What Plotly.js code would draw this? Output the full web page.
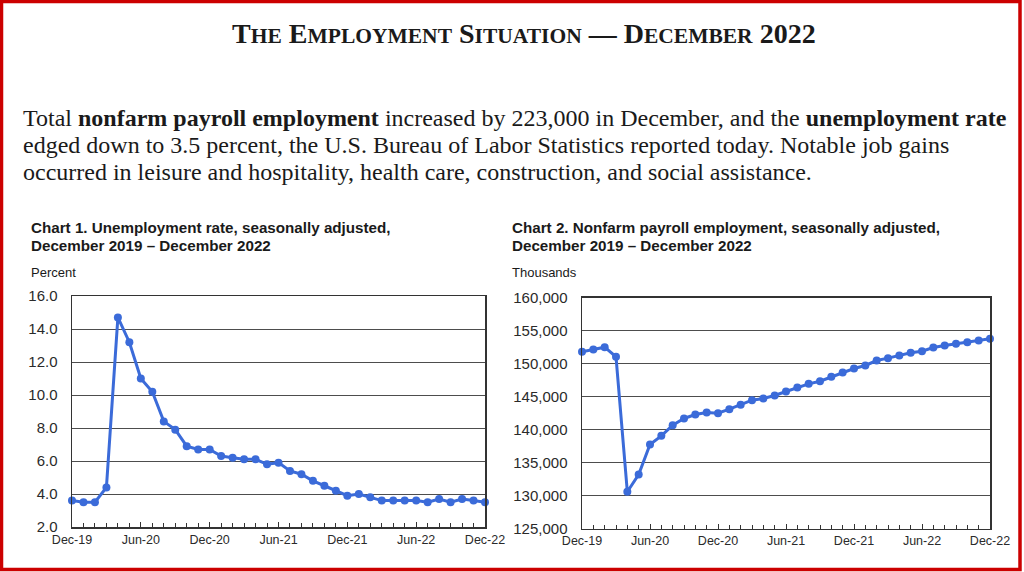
<!DOCTYPE html>
<html>
<head>
<meta charset="utf-8">
<script src="https://cdn.plot.ly/plotly-3.0.1.min.js"></script>
<style>
  html, body { margin: 0; padding: 0; background: #ffffff; }
  #chart { width: 1024px; height: 572px; }
</style>
</head>
<body>
<div id="chart"></div>
<script>
// ---- Data ----
const months = [
  "Dec-19","Jan-20","Feb-20","Mar-20","Apr-20","May-20","Jun-20","Jul-20","Aug-20","Sep-20","Oct-20","Nov-20",
  "Dec-20","Jan-21","Feb-21","Mar-21","Apr-21","May-21","Jun-21","Jul-21","Aug-21","Sep-21","Oct-21","Nov-21",
  "Dec-21","Jan-22","Feb-22","Mar-22","Apr-22","May-22","Jun-22","Jul-22","Aug-22","Sep-22","Oct-22","Nov-22",
  "Dec-22"
];
const unemploymentRate = [
  3.6, 3.5, 3.5, 4.4, 14.7, 13.2, 11.0, 10.2, 8.4, 7.9, 6.9, 6.7,
  6.7, 6.3, 6.2, 6.1, 6.1, 5.8, 5.9, 5.4, 5.2, 4.8, 4.5, 4.2,
  3.9, 4.0, 3.8, 3.6, 3.6, 3.6, 3.6, 3.5, 3.7, 3.5, 3.7, 3.6,
  3.5
];
const payrollEmployment = [
  151770, 152120, 152470, 151010, 130560, 133180, 137730, 139040, 140660, 141670, 142270, 142580,
  142470, 143080, 143740, 144440, 144700, 145150, 145760, 146360, 146920, 147320, 147980, 148640,
  149240, 149700, 150450, 150810, 151210, 151620, 151870, 152420, 152730, 152980, 153230, 153480,
  153740
];
const xTickLabels = ["Dec-19","Jun-20","Dec-20","Jun-21","Dec-21","Jun-22","Dec-22"];

// ---- Derived positions ----
const idx = months.map((m, i) => i);
const xTickVals = xTickLabels.map(l => months.indexOf(l));

const W = 1024, H = 572;
const px = x => x / W;
const py = y => 1 - y / H;

const blue = "#3B6BD9";
const gridCol = "#4d4d4d";
const textCol = "#1a1a1a";

function series(y, xa, ya) {
  return {
    x: idx, y: y, xaxis: xa, yaxis: ya,
    type: "scatter", mode: "lines+markers",
    line: { color: blue, width: 3 },
    marker: { color: blue, size: 8 },
    cliponaxis: false,
    hoverinfo: "skip", showlegend: false
  };
}

function xaxisDef(d0, d1, anchor) {
  return {
    domain: [px(d0), px(d1)], anchor: anchor,
    range: [0, 36], tickmode: "array", tickvals: xTickVals, ticktext: xTickLabels,
    ticks: "inside", ticklen: 5, tickcolor: "#333", tickwidth: 1,
    minor: { tickmode: "linear", tick0: 0, dtick: 1, ticks: "inside", ticklen: 4, tickcolor: "#333", tickwidth: 1, showgrid: false },
    showgrid: false, zeroline: false,
    showline: true, mirror: true, linecolor: "#333", linewidth: 1.5,
    tickfont: { family: "Liberation Sans, Arial, sans-serif", size: 12.5, color: "#2a2a2a" },
    fixedrange: true
  };
}

function yaxisDef(top, bottom, anchor, range, dtick, fmt) {
  return {
    domain: [py(bottom), py(top)], anchor: anchor,
    range: range, dtick: dtick, tick0: range[0], tickformat: fmt,
    showgrid: true, gridcolor: gridCol, gridwidth: 1,
    zeroline: false, ticks: "",
    showline: true, mirror: true, linecolor: "#333", linewidth: 1.5,
    ticklabelstandoff: 10,
    tickfont: { family: "Liberation Sans, Arial, sans-serif", size: 15, color: "#2a2a2a" },
    fixedrange: true
  };
}

const serif = "Liberation Serif, Times New Roman, serif";
const sans = "Liberation Sans, Arial, sans-serif";
const sc = s => "<span style='font-size:21.5px'>" + s + "</span>";
const titleText = "<b>T" + sc("HE") + " E" + sc("MPLOYMENT") + " S" + sc("ITUATION") + " — D" + sc("ECEMBER") + " 2022</b>";

function ann(text, x, y, size, family, xanchor) {
  return {
    text: text, xref: "paper", yref: "paper", x: px(x), y: py(y),
    xanchor: xanchor || "left", yanchor: "middle", showarrow: false, align: "left",
    font: { family: family, size: size, color: textCol }
  };
}

const annotations = [
  ann(titleText, 524, 33, 28, serif, "center"),
  ann("Total <b>nonfarm payroll employment</b> increased by 223,000 in December, and the <b>unemployment rate</b>", 21, 118, 24, serif),
  ann("edged down to 3.5 percent, the U.S. Bureau of Labor Statistics reported today. Notable job gains", 21, 145, 24, serif),
  ann("occurred in leisure and hospitality, health care, construction, and social assistance.", 21, 172, 24, serif),
  ann("<b>Chart 1. Unemployment rate, seasonally adjusted,</b>", 29, 227, 15.2, sans),
  ann("<b>December 2019 – December 2022</b>", 29, 245, 15.2, sans),
  ann("Percent", 29, 272, 13, sans),
  ann("<b>Chart 2. Nonfarm payroll employment, seasonally adjusted,</b>", 510, 227, 15.2, sans),
  ann("<b>December 2019 – December 2022</b>", 510, 245, 15.2, sans),
  ann("Thousands", 510, 272, 13, sans)
];

const layout = {
  width: W, height: H,
  margin: { l: 0, r: 0, t: 0, b: 0, pad: 0 },
  paper_bgcolor: "#ffffff", plot_bgcolor: "#ffffff",
  showlegend: false,
  xaxis: xaxisDef(72, 485, "y"),
  yaxis: yaxisDef(296, 527, "x", [2, 16], 2, ".1f"),
  xaxis2: xaxisDef(582, 990, "y2"),
  yaxis2: yaxisDef(297.5, 528.5, "x2", [125000, 160000], 5000, ","),
  annotations: annotations,
  shapes: [{
    type: "rect", xref: "paper", yref: "paper",
    x0: px(1.5), x1: px(1020), y0: py(569.5), y1: py(1.5),
    line: { color: "#cc0000", width: 3.5 }, fillcolor: "rgba(0,0,0,0)", layer: "above"
  }]
};

Plotly.newPlot("chart", [
  series(unemploymentRate, "x", "y"),
  series(payrollEmployment, "x2", "y2")
], layout, { displayModeBar: false, staticPlot: true });
</script>
</body>
</html>
